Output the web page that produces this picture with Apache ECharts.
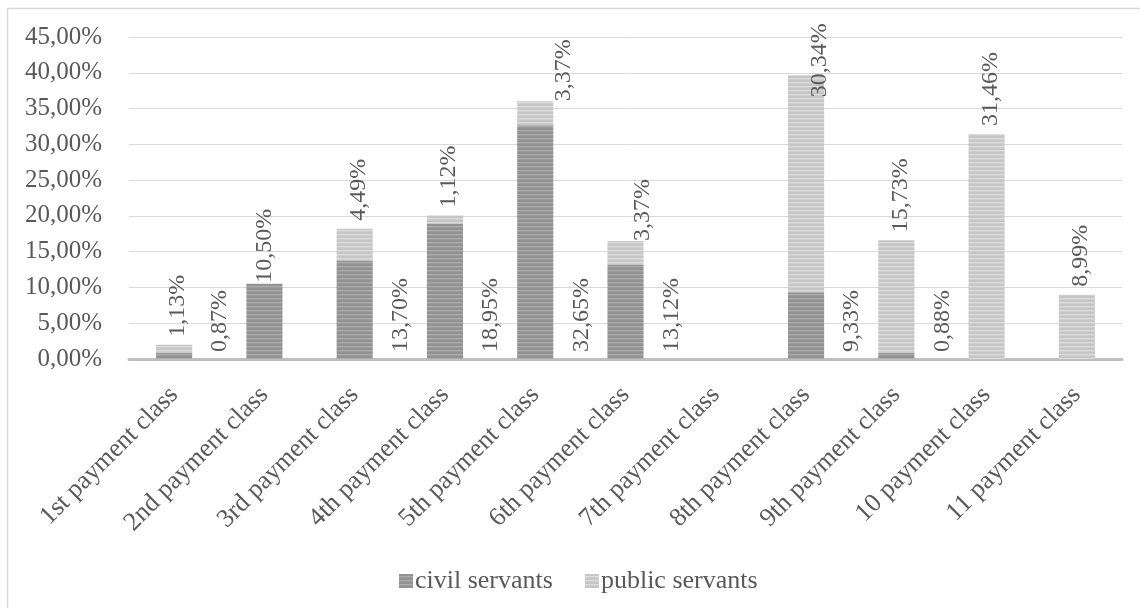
<!DOCTYPE html>
<html>
<head>
<meta charset="utf-8">
<script src="https://cdn.jsdelivr.net/npm/echarts@6/dist/echarts.min.js"></script>
<style>
html,body{margin:0;padding:0;background:#fff;}
#chart{width:1140px;height:608px;}
</style>
</head>
<body>
<div id="chart"></div>
<script>
var categories = ['1st payment class','2nd payment class','3rd payment class','4th payment class','5th payment class','6th payment class','7th payment class','8th payment class','9th payment class','10 payment class','11 payment class'];
var civilServants = [0.87, 10.50, 13.70, 18.95, 32.65, 13.12, 0, 9.33, 0.88, 0, 0];
var publicServants = [1.13, 0, 4.49, 1.12, 3.37, 3.37, 0, 30.34, 15.73, 31.46, 8.99];
var seriesNames = ['civil servants', 'public servants'];

function stripes(c1, c2) {
  var cv = document.createElement('canvas');
  cv.width = 4; cv.height = 4;
  var ctx = cv.getContext('2d');
  ctx.fillStyle = c1; ctx.fillRect(0, 0, 4, 4);
  ctx.fillStyle = c2; ctx.fillRect(0, 2, 4, 1.3);
  return { image: cv, repeat: 'repeat' };
}
var civilFill = stripes('#929292', '#acacac');
var publicFill = stripes('#c6c6c6', '#dcdcdc');

function pct(v) { return v.toFixed(2).replace('.', ',') + '%'; }
var FONT = 'Liberation Serif';
var labelColor = '#595959';

var baseLabel = {
  show: true, rotate: 90, align: 'left', verticalAlign: 'middle',
  fontFamily: FONT, fontSize: 24, color: labelColor,
  formatter: function (p) { return p.value > 0 ? pct(p.value) : ''; }
};

// per-item label placement tweaks (style only); offsets are in the rotated frame: [up, right]
var civilData = civilServants.map(function (v, i) {
  var d = { value: v };
  if (i === 1) d.label = { position: 'top', distance: 1, offset: [0, 0] };
  return d;
});
var publicData = publicServants.map(function (v, i) {
  var d = { value: v };
  if (i === 4) d.label = { distance: 0, offset: [0, 28] };
  if (i === 5) d.label = { distance: 0, offset: [0, 17] };
  if (i === 7) d.label = { distance: 0, offset: [-22, 14] };
  return d;
});

var chart = echarts.init(document.getElementById('chart'), null, { renderer: 'canvas' });
chart.setOption({
  animation: false,
  backgroundColor: '#ffffff',
  textStyle: { fontFamily: FONT },
  graphic: [{
    type: 'rect', silent: true, z: -10,
    shape: { x: 7.5, y: 8.5, width: 1160, height: 620 },
    style: { fill: 'none', stroke: '#d9d9d9', lineWidth: 1.5 }
  }],
  grid: { left: 129, right: 18, top: 37, bottom: 249, containLabel: false },
  legend: {
    left: 394, top: 563,
    itemWidth: 14, itemHeight: 14, itemGap: 32,
    icon: 'rect',
    textStyle: { fontFamily: FONT, fontSize: 26, color: labelColor, padding: [0, 0, 0, -3] },
    data: seriesNames
  },
  xAxis: {
    type: 'category',
    data: categories,
    axisLine: { lineStyle: { color: '#bfbfbf', width: 3 } },
    axisTick: { show: false },
    axisLabel: { rotate: 45, interval: 0, margin: 32, fontFamily: FONT, fontSize: 26, color: labelColor }
  },
  yAxis: {
    type: 'value', min: 0, max: 45, interval: 5,
    axisLine: { show: false }, axisTick: { show: false },
    splitLine: { lineStyle: { color: '#d9d9d9', width: 1 } },
    axisLabel: { margin: 27, fontFamily: FONT, fontSize: 25, color: labelColor,
      formatter: function (v) { return pct(v); } }
  },
  series: [{
    name: seriesNames[0], type: 'bar', stack: 'total',
    barCategoryGap: '60%',
    itemStyle: { color: civilFill },
    label: Object.assign({}, baseLabel, { position: 'insideBottom', distance: 7, offset: [0, 46] }),
    data: civilData
  }, {
    name: seriesNames[1], type: 'bar', stack: 'total',
    barCategoryGap: '60%',
    itemStyle: { color: publicFill },
    label: Object.assign({}, baseLabel, { position: 'top', distance: 8, offset: [0, 4] }),
    data: publicData
  }]
});
</script>
</body>
</html>
